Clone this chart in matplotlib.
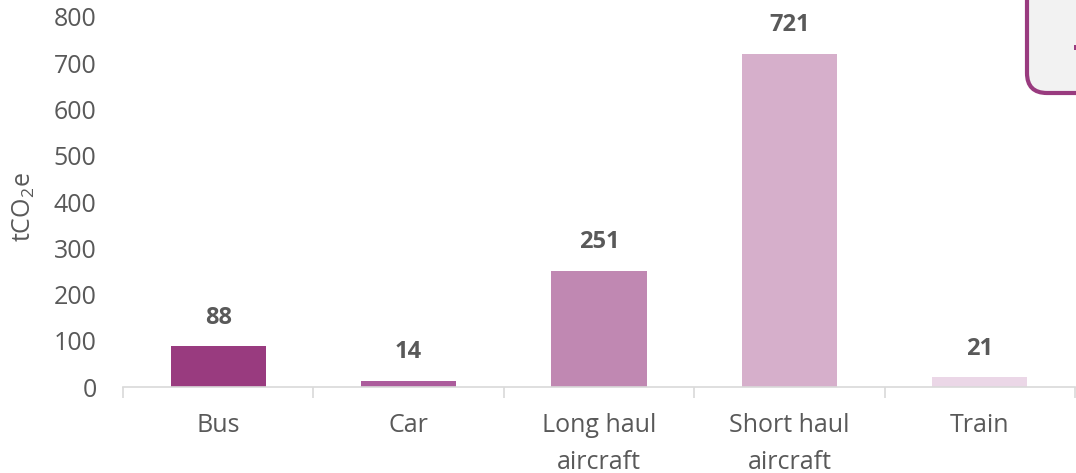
import matplotlib
matplotlib.use("Agg")
import matplotlib.pyplot as plt
from matplotlib.patches import FancyBboxPatch, Rectangle
import numpy as np

categories = ["Bus", "Car", "Long haul\naircraft", "Short haul\naircraft", "Train"]
values = [88, 14, 251, 721, 21]
colors = ["#993B7F", "#AC5C9C", "#C088B2", "#D6AFCB", "#EBD7E7"]
yticks = [0, 100, 200, 300, 400, 500, 600, 700, 800]

plt.rcParams["font.family"] = ["Open Sans", "DejaVu Sans"]
plt.rcParams["mathtext.default"] = "regular"

W, H = 1076, 473
fig = plt.figure(figsize=(W / 100, H / 100), dpi=100)
ax = fig.add_axes([123 / W, 86 / H, (1075 - 123) / W, (387 - 17) / H])

x = np.arange(len(categories))
ax.bar(x, values, width=0.5, color=colors, zorder=2)
for xi, v in zip(x, values):
    ax.annotate(f"{v}", (xi, v), xytext=(0, 12), textcoords="offset points",
                ha="center", va="bottom", fontsize=17, fontweight="bold", color="#595959")

ax.set_xlim(-0.5, len(categories) - 0.5)
ax.set_ylim(0, 800)
ax.set_yticks(yticks)
ax.set_xticks(x)
ax.set_xticklabels(categories, fontsize=18, color="#595959", linespacing=1.6)
ax.set_xticks(np.arange(-0.5, len(categories)), minor=True)
ax.tick_params(axis="x", which="major", length=0, pad=19)
ax.tick_params(axis="x", which="minor", length=8, color="#D9D9D9", width=1.2)
ax.tick_params(axis="y", length=0, labelsize=18, labelcolor="#595959", pad=19)
for lbl in ax.get_xticklabels():
    lbl.set_verticalalignment("top")

for s in ["top", "right", "left"]:
    ax.spines[s].set_visible(False)
ax.spines["bottom"].set_color("#D9D9D9")
ax.spines["bottom"].set_linewidth(1.2)

ax.set_ylabel(r"tCO$_2$e", fontsize=18, color="#595959")
ax.yaxis.set_label_coords((37 - 123) / 952, (387 - 207) / 370)

# partially visible callout box at top right (pixel-like inch coordinates)
box = FancyBboxPatch((10.27, (H - 93) / 100), 1.2, 2.0,
                     boxstyle="round,pad=0,rounding_size=0.2",
                     transform=fig.dpi_scale_trans, facecolor="#F2F2F2",
                     edgecolor="#993B7F", linewidth=3, clip_on=False)
fig.add_artist(box)
mark = Rectangle((10.74, (H - 50) / 100), 0.03, 0.05, transform=fig.dpi_scale_trans,
                 facecolor="#993B7F", edgecolor="none")
fig.add_artist(mark)

fig.savefig("out.png", dpi=100, facecolor="white")
